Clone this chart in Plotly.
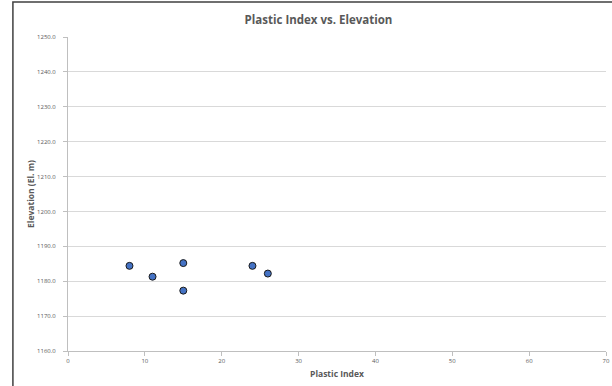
import plotly.graph_objects as go

plastic_index = [8, 11, 15, 15, 24, 26]
elevation = [1184.4, 1181.3, 1185.2, 1177.3, 1184.4, 1182.2]
x_ticks = [0, 10, 20, 30, 40, 50, 60, 70]
y_ticks = [1160, 1170, 1180, 1190, 1200, 1210, 1220, 1230, 1240, 1250]

font = "Open Sans"
fig = go.Figure()
fig.add_trace(go.Scatter(
    x=plastic_index, y=elevation, mode="markers",
    marker=dict(size=7, color="#4472c4", line=dict(color="#1a1a1a", width=1)),
    showlegend=False,
))

L, R, T, B = 68, 610, 37, 351
W, H = 612, 386
fig.update_layout(
    width=W, height=H,
    margin=dict(l=L, r=W - R, t=T, b=H - B, pad=0),
    paper_bgcolor="white", plot_bgcolor="white",
    title=dict(text="<b>Plastic Index vs. Elevation</b>", x=318.5 / W, xanchor="center",
               y=1 - 20 / H, yanchor="middle",
               font=dict(family=font, size=11.5, color="#595959")),
    font=dict(family=font, color="#595959"),
    xaxis=dict(range=[0, 70], tickvals=x_ticks, ticktext=[str(v) for v in x_ticks],
               showgrid=False, zeroline=False, showline=True, linecolor="#bfbfbf", linewidth=1,
               ticks="outside", ticklen=4, tickcolor="#bfbfbf",
               ticklabeloverflow="allow",
               tickfont=dict(size=6, color="#595959"),
               title=dict(text="<b>Plastic Index</b>", font=dict(size=8.5, color="#595959"), standoff=6)),
    yaxis=dict(range=[1160, 1250], tickvals=y_ticks, ticktext=[f"{v:.1f}" for v in y_ticks],
               showgrid=True, gridcolor="#d9d9d9", gridwidth=1, zeroline=False,
               showline=True, linecolor="#bfbfbf", linewidth=1,
               ticks="outside", ticklen=4, tickcolor="#bfbfbf",
               ticklabelstandoff=6,
               tickfont=dict(size=6, color="#595959"),
               title=dict(text="<b>Elevation (El. m)</b>", font=dict(size=8.5, color="#595959"), standoff=1)),
)
pw, ph = R - L, B - T
fig.add_shape(type="rect", xref="paper", yref="paper",
              x0=(12.5 - L) / pw, x1=(W + 20 - L) / pw,
              y0=-(H + 20 - B) / ph, y1=1 + (T - 2) / ph,
              line=dict(color="#404040", width=1.5), layer="above")
fig.write_html("out.html", config={"displayModeBar": False})

with open("out.html", encoding="utf-8") as f:
    html = f.read()
html = html.replace("<head>", "<head><style>html,body{margin:0;padding:0;overflow:hidden}</style>", 1)
with open("out.html", "w", encoding="utf-8") as f:
    f.write(html)
